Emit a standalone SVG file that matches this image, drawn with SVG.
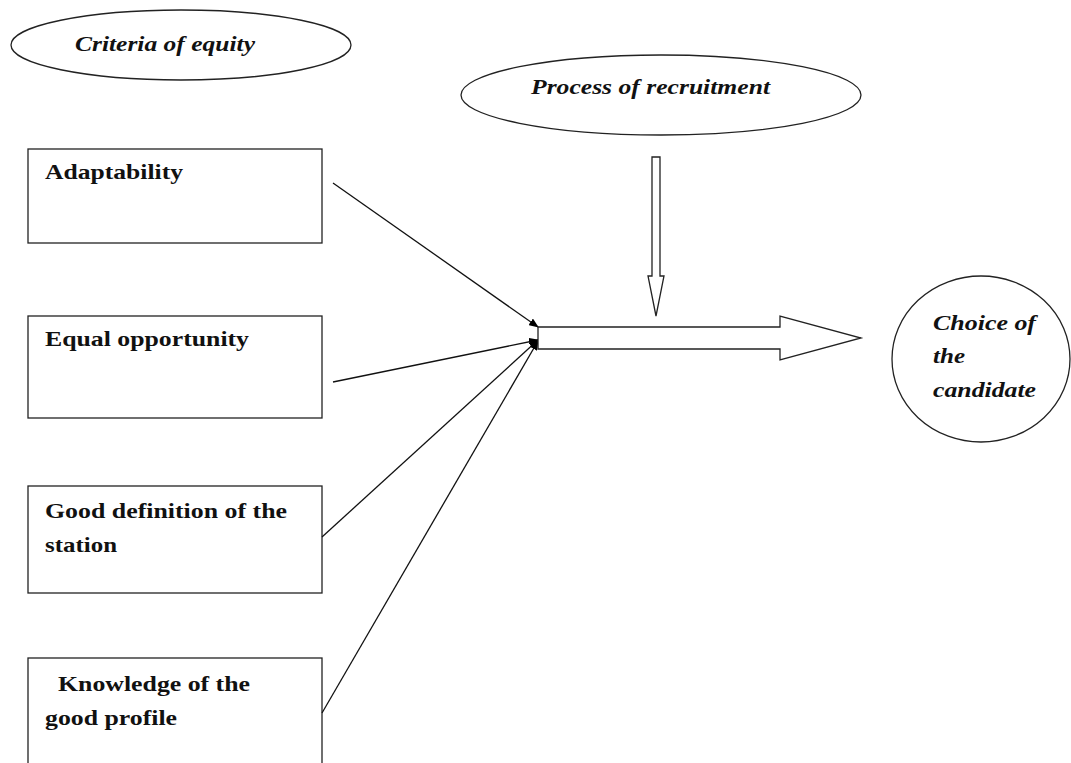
<svg xmlns="http://www.w3.org/2000/svg" width="1071" height="763" viewBox="0 0 1071 763">
<defs>
<style>
.sh{fill:#fff;stroke:#222;stroke-width:1.3}
.t{font-family:"Liberation Serif",serif;font-weight:bold;font-size:21px;fill:#111}
.ti{font-style:italic}
.ln{stroke:#111;stroke-width:1.3;fill:none}
</style>
<marker id="ah" markerWidth="10" markerHeight="8" refX="9" refY="4" orient="auto" markerUnits="userSpaceOnUse" viewBox="0 0 10 8"><path d="M0,0 L10,4 L0,8 z" fill="#000"/></marker>
</defs>
<rect width="1071" height="763" fill="#fff"/>
<g id="criteria"><ellipse class="sh" cx="181" cy="45" rx="170" ry="35"/><text class="t ti" x="75" y="51" textLength="180" lengthAdjust="spacingAndGlyphs">Criteria  of equity</text></g>
<g id="process"><ellipse class="sh" cx="661" cy="95" rx="200" ry="40"/><text class="t ti" x="531" y="94" textLength="239" lengthAdjust="spacingAndGlyphs">Process of recruitment</text></g>
<g id="adaptability"><rect class="sh" x="28" y="149" width="294" height="94"/><text class="t" x="45" y="179" textLength="138" lengthAdjust="spacingAndGlyphs">Adaptability</text></g>
<g id="equal"><rect class="sh" x="28" y="316" width="294" height="102"/><text class="t" x="45" y="346" textLength="204" lengthAdjust="spacingAndGlyphs">Equal opportunity</text></g>
<g id="definition"><rect class="sh" x="28" y="486" width="294" height="107"/><text class="t" x="45" y="518" textLength="242" lengthAdjust="spacingAndGlyphs">Good definition of the</text><text class="t" x="45" y="552" textLength="72" lengthAdjust="spacingAndGlyphs">station</text></g>
<g id="knowledge"><rect class="sh" x="28" y="658" width="294" height="110"/><text class="t" x="58" y="691" textLength="192" lengthAdjust="spacingAndGlyphs">Knowledge of the</text><text class="t" x="45" y="725" textLength="132" lengthAdjust="spacingAndGlyphs">good profile</text></g>
<g id="choice"><ellipse class="sh" cx="981" cy="359" rx="89" ry="83"/><text class="t ti" x="933" y="330" textLength="103" lengthAdjust="spacingAndGlyphs">Choice of</text><text class="t ti" x="933" y="363" textLength="32" lengthAdjust="spacingAndGlyphs">the</text><text class="t ti" x="933" y="397" textLength="103" lengthAdjust="spacingAndGlyphs">candidate</text></g>
<g id="connectors">
<line class="ln" x1="333" y1="183" x2="538" y2="327" marker-end="url(#ah)"/>
<line class="ln" x1="333" y1="382" x2="538" y2="340" marker-end="url(#ah)"/>
<line class="ln" x1="322" y1="537" x2="538" y2="340" marker-end="url(#ah)"/>
<line class="ln" x1="322" y1="713" x2="538" y2="341" marker-end="url(#ah)"/>
<path class="sh" d="M538,327 H780 V316 L861,338 L780,360 V349 H538 Z"/>
<path class="sh" d="M652,157 H660 V276 H664 L656,316 L648,276 H652 Z"/>
</g>
</svg>
